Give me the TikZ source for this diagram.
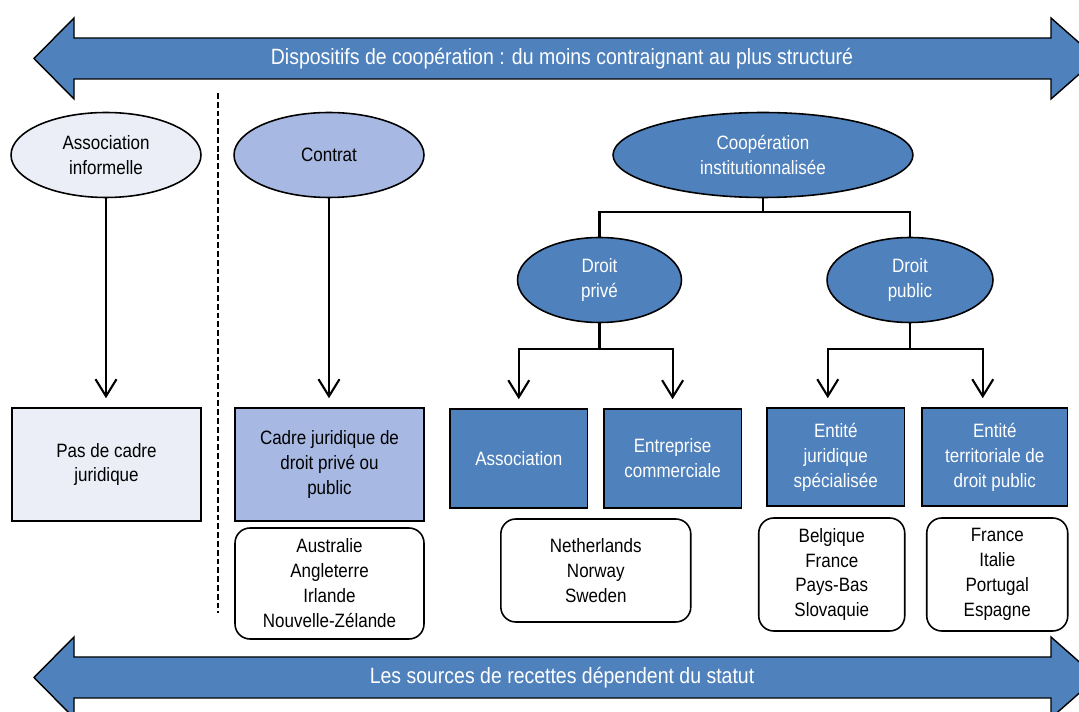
\documentclass[tikz,border=0pt]{standalone}
\usepackage{fontspec}
\setmainfont[FakeStretch=0.88]{Liberation Sans}
\usetikzlibrary{positioning,arrows.meta,shapes.geometric}
\definecolor{darkblue}{HTML}{4F81BD}
\definecolor{midblue}{HTML}{A7B8E2}
\definecolor{paleblue}{HTML}{EBEEF7}

\begin{document}
\begin{tikzpicture}[x=0.02cm,y=-0.02cm,
  every node/.style={font=\fontsize{11}{14.2}\selectfont,align=center,inner sep=0pt},
  oval/.style={ellipse,draw,line width=0.9pt,minimum height=1.7cm},
  cell/.style={rectangle,draw,line width=0.9pt},
  list/.style={rectangle,draw,rounded corners=0.3cm,line width=0.9pt,fill=white},
  band/.style={draw,fill=darkblue,line width=0.8pt,line join=miter},
  bandtext/.style={text=white,font=\fontsize{12.6}{15}\selectfont},
  tree/.style={line width=1.2pt},
  arr/.style={line width=1.2pt,-{Straight Barb[length=0.34cm,width=0.42cm,line width=1.2pt]},shorten >=0.18cm}]
\useasboundingbox (0,0) rectangle (1079,712);
% band arrows
\foreach \y/\lab/\nm in {58.5/Dispositifs de coopération : du moins contraignant au plus structuré/toplab,
                        677.5/Les sources de recettes dépendent du statut/botlab}{
  \draw[band] (34,\y) -- (74,\y-40.5) -- (74,\y-20.5) -- (1051,\y-20.5) -- (1051,\y-40.5) -- (1097,\y)
    -- (1051,\y+40.5) -- (1051,\y+20.5) -- (74,\y+20.5) -- (74,\y+40.5) -- cycle;
  \node[bandtext] (\nm) at (562,\y) {\lab};
}
\draw[line width=1.5pt,dash pattern=on 3.3pt off 1.7pt] (218,93) -- (218,613);
% informal / contract
\node[oval,fill=paleblue,minimum width=3.8cm] (assoc) at (106,155) {Association\\informelle};
\node[oval,fill=midblue,minimum width=3.8cm] (contrat) at (329,155) {Contrat};
\node[cell,fill=paleblue,minimum width=3.78cm,minimum height=2.26cm] (pascadre) at (106.5,464.5) {Pas de cadre\\juridique};
\node[cell,fill=midblue,minimum width=3.78cm,minimum height=2.26cm] (cadre) at (329.5,464.5) {Cadre juridique de\\droit privé ou\\public};
\node[list,minimum width=3.78cm,minimum height=2.22cm] (lcadre) at (329.5,583.5) {Australie\\Angleterre\\Irlande\\Nouvelle-Zélande};
\draw[arr] (assoc.south) -- (assoc.south |- pascadre.north);
\draw[arr] (contrat.south) -- (contrat.south |- cadre.north);
% institutional cooperation
\node[oval,fill=darkblue,text=white,minimum width=6cm] (coop) at (763,155) {Coopération\\institutionnalisée};
\node[oval,fill=darkblue,text=white,minimum width=3.28cm] (prive) at (599.5,280) {Droit\\privé};
\node[oval,fill=darkblue,text=white,minimum width=3.32cm] (public) at (910,280) {Droit\\public};
\node[cell,fill=darkblue,text=white,minimum width=2.75cm,minimum height=1.98cm] (asso) at (518.75,458.5) {Association};
\node[cell,fill=darkblue,text=white,minimum width=2.75cm,minimum height=1.98cm] (entr) at (672.6,458.5) {Entreprise\\commerciale};
\node[cell,fill=darkblue,text=white,minimum width=2.75cm,minimum height=1.96cm] (entjur) at (835.75,457) {Entité\\juridique\\spécialisée};
\node[cell,fill=darkblue,text=white,minimum width=2.91cm,minimum height=1.96cm] (entter) at (994.75,457) {Entité\\territoriale de\\droit public};
\node[list,minimum width=3.8cm,minimum height=2.06cm] (lpriv) at (595.8,570.5) {Netherlands\\Norway\\Sweden};
\node[list,minimum width=2.92cm,minimum height=2.26cm] (ljur) at (831.75,574.5) {Belgique\\France\\Pays-Bas\\Slovaquie};
\node[list,minimum width=2.82cm,minimum height=2.26cm] (lter) at (997.25,574.5) {France\\Italie\\Portugal\\Espagne};
\draw[tree] (coop.south) -- ++(0,14) coordinate (cj);
\draw[tree] (prive.north) |- (cj) -| (public.north);
\draw[tree] (prive.south) -- ++(0,25.5) coordinate (pj);
\draw[arr] (pj) -| (asso.north);
\draw[arr] (pj) -| (entr.north);
\draw[tree] (public.south) -- ++(0,25.5) coordinate (uj);
\draw[arr] (uj) -| ([xshift=-0.16cm]entjur.north);
\draw[arr] (uj) -| ([xshift=-0.24cm]entter.north);
\end{tikzpicture}
\end{document}
